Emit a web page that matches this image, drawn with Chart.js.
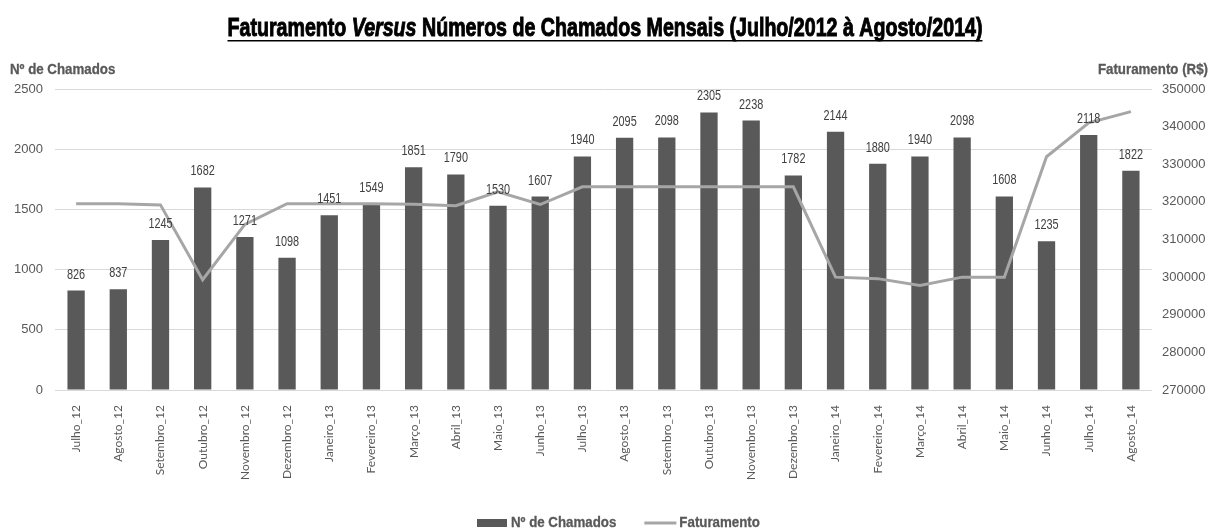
<!DOCTYPE html>
<html>
<head>
<meta charset="utf-8">
<script src="https://cdn.jsdelivr.net/npm/chart.js@4.4.1/dist/chart.umd.min.js"></script>
<style>
  html, body { margin: 0; padding: 0; background: #fff; }
  #wrap { width: 1210px; height: 530px; }
</style>
</head>
<body>
<div id="wrap"><canvas id="chart" width="1210" height="530"></canvas></div>
<script>
// Months (x axis)
const months = ['Julho_12', 'Agosto_12', 'Setembro_12', 'Outubro_12', 'Novembro_12', 'Dezembro_12',
  'Janeiro_13', 'Fevereiro_13', 'Março_13', 'Abril_13', 'Maio_13', 'Junho_13', 'Julho_13',
  'Agosto_13', 'Setembro_13', 'Outubro_13', 'Novembro_13', 'Dezembro_13',
  'Janeiro_14', 'Fevereiro_14', 'Março_14', 'Abril_14', 'Maio_14', 'Junho_14', 'Julho_14', 'Agosto_14'];

// Nº de chamados (bars, left axis)
const chamados = [826, 837, 1245, 1682, 1271, 1098, 1451, 1549, 1851, 1790, 1530, 1607, 1940,
  2095, 2098, 2305, 2238, 1782, 2144, 1880, 1940, 2098, 1608, 1235, 2118, 1822];

// Faturamento em R$ (line, right axis)
const faturamento = [319500, 319500, 319200, 299300, 314000, 319500, 319500, 319500, 319400, 319000,
  322700, 319300, 324000, 324000, 324000, 324000, 324000, 324000,
  300000, 299600, 297800, 300000, 300000, 332000, 341000, 344000];

// Axis ticks
const chamadosTicks = [0, 500, 1000, 1500, 2000, 2500];
const faturamentoTicks = [270000, 280000, 290000, 300000, 310000, 320000, 330000, 340000, 350000];

const BAR_COLOR = '#595959';
const LINE_COLOR = '#a6a6a6';
const TEXT_COLOR = '#595959';
const SANS = '"Liberation Sans", Arial, sans-serif';

// no narrow font installed, so squeeze text horizontally
function narrowText(ctx, text, x, y, sx, align, stroke) {
  const w = ctx.measureText(text).width * sx;
  let left = x;
  if (align === 'center') left = x - w / 2;
  if (align === 'right') left = x - w;
  ctx.save();
  ctx.textAlign = 'left';
  ctx.translate(left, y);
  ctx.scale(sx, 1);
  ctx.fillText(text, 0, 0);
  if (stroke) {
    ctx.lineWidth = stroke;
    ctx.strokeStyle = ctx.fillStyle;
    ctx.strokeText(text, 0, 0);
  }
  ctx.restore();
  return w;
}

// Draws title, axis titles, bar value labels and the legend
const decorations = {
  id: 'decorations',
  afterDraw(chart) {
    const ctx = chart.ctx;
    ctx.save();
    ctx.textBaseline = 'alphabetic';

    // Title with italic "Versus" and underline, squeezed to the original width
    const parts = [
      { text: 'Faturamento ', font: 'bold 26px ' + SANS },
      { text: 'Versus', font: 'italic bold 26px ' + SANS },
      { text: ' Números de Chamados Mensais (Julho/2012 à Agosto/2014)', font: 'bold 26px ' + SANS }
    ];
    let total = 0;
    parts.forEach(p => { ctx.font = p.font; p.w = ctx.measureText(p.text).width; total += p.w; });
    const sx = 755 / total;
    let x = chart.width / 2 - 755 / 2;
    const startX = x;
    ctx.fillStyle = '#000';
    parts.forEach(p => { ctx.font = p.font; narrowText(ctx, p.text, x, 36, sx, 'left', 1); x += p.w * sx; });
    ctx.fillRect(startX, 40, 755, 1.5);

    // Axis titles
    ctx.font = 'bold 14px ' + SANS;
    ctx.fillStyle = TEXT_COLOR;
    narrowText(ctx, 'Nº de Chamados', 10, 74, 0.95, 'left', 0.3);
    narrowText(ctx, 'Faturamento (R$)', 1208, 74, 0.95, 'right', 0.3);

    // Values above bars
    const meta = chart.getDatasetMeta(0);
    ctx.font = '14.5px ' + SANS;
    ctx.fillStyle = '#404040';
    meta.data.forEach((bar, i) => {
      narrowText(ctx, String(chamados[i]), bar.x, bar.y - 12, 0.75, 'center');
    });

    // Legend
    const ly = 523;
    ctx.font = 'bold 14px ' + SANS;
    ctx.textBaseline = 'middle';
    const t1 = 'Nº de Chamados', t2 = 'Faturamento';
    const w1 = ctx.measureText(t1).width * 0.95, w2 = ctx.measureText(t2).width * 0.95;
    let lx = 477;
    ctx.fillStyle = BAR_COLOR;
    ctx.fillRect(lx, ly - 4, 30, 8);
    lx += 34;
    ctx.fillStyle = TEXT_COLOR;
    narrowText(ctx, t1, lx, ly, 0.95, 'left', 0.3);
    lx += w1 + 28;
    ctx.strokeStyle = LINE_COLOR;
    ctx.lineWidth = 3;
    ctx.beginPath();
    ctx.moveTo(lx, ly);
    ctx.lineTo(lx + 32, ly);
    ctx.stroke();
    lx += 35;
    narrowText(ctx, t2, lx, ly, 0.95, 'left', 0.3);

    ctx.restore();
  }
};

new Chart(document.getElementById('chart'), {
  type: 'bar',
  data: {
    labels: months,
    datasets: [
      {
        label: 'Nº de Chamados',
        data: chamados,
        backgroundColor: BAR_COLOR,
        yAxisID: 'y',
        order: 1,
        categoryPercentage: 1,
        barPercentage: 0.41
      },
      {
        type: 'line',
        label: 'Faturamento',
        data: faturamento,
        borderColor: LINE_COLOR,
        borderWidth: 3,
        pointRadius: 0,
        tension: 0,
        yAxisID: 'y1',
        order: 0
      }
    ]
  },
  options: {
    responsive: false,
    animation: false,
    devicePixelRatio: 1,
    layout: { padding: { top: 89, left: 0, right: 0, bottom: 0 } },
    plugins: {
      legend: { display: false },
      tooltip: { enabled: false }
    },
    scales: {
      x: {
        grid: { display: false },
        border: { display: false },
        ticks: {
          color: TEXT_COLOR,
          font: { family: 'Lato', size: 12 },
          minRotation: 90,
          maxRotation: 90,
          autoSkip: false,
          padding: 7
        },
        afterFit(scale) { scale.height = 140; }
      },
      y: {
        position: 'left',
        min: chamadosTicks[0],
        max: chamadosTicks[chamadosTicks.length - 1],
        afterBuildTicks(scale) { scale.ticks = chamadosTicks.map(v => ({ value: v })); },
        grid: { color: '#d9d9d9', drawTicks: false },
        border: { display: false },
        ticks: {
          color: TEXT_COLOR,
          font: { family: '"Liberation Sans"', size: 13 },
          padding: 12,
          callback: v => String(v)
        },
        afterFit(scale) { scale.width = 55; }
      },
      y1: {
        position: 'right',
        min: faturamentoTicks[0],
        max: faturamentoTicks[faturamentoTicks.length - 1],
        afterBuildTicks(scale) { scale.ticks = faturamentoTicks.map(v => ({ value: v })); },
        grid: { display: false, drawTicks: false },
        border: { display: false },
        ticks: {
          color: TEXT_COLOR,
          font: { family: '"Liberation Sans"', size: 13 },
          padding: 10,
          callback: v => String(v)
        },
        afterFit(scale) { scale.width = 58; }
      }
    }
  },
  plugins: [decorations]
});
</script>
</body>
</html>
